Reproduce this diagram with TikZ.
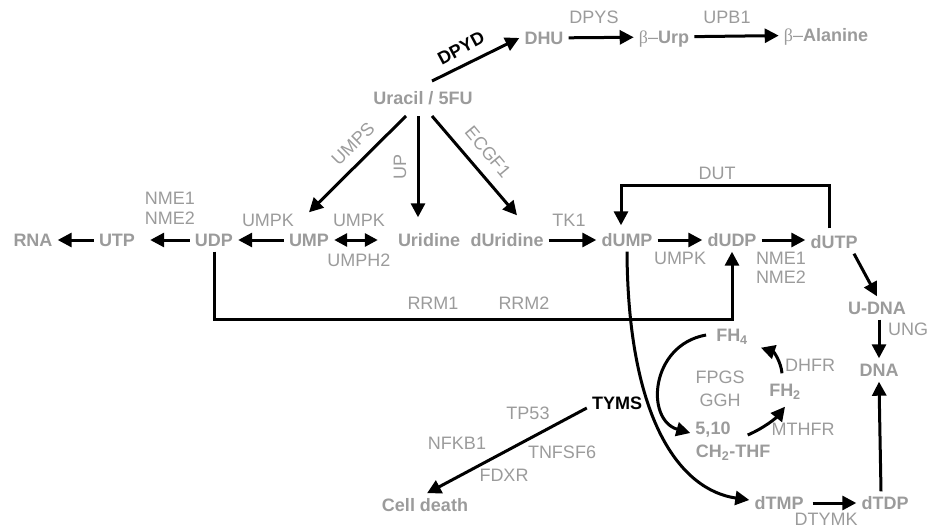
\documentclass[tikz,border=0pt]{standalone}
\usepackage{fontspec}
\setmainfont{Liberation Sans}
\newfontfamily\grkfont{Liberation Serif}
\usetikzlibrary{arrows.meta}
\definecolor{lbl}{RGB}{155,155,155}
\begin{document}
\begin{tikzpicture}[x=1pt,y=-1pt,
 met/.style={font=\fontsize{18}{18}\selectfont\bfseries, text=lbl, inner sep=5pt, text height=13pt, text depth=0pt},
 enz/.style={font=\fontsize{18}{18}\selectfont, text=lbl, inner sep=0pt},
 key/.style={font=\fontsize{18}{18}\selectfont\bfseries, text=black, inner sep=5pt, text height=13pt, text depth=0pt},
 arr/.style={line width=3pt, -{Triangle[length=14pt,width=14pt]}},
 dbl/.style={line width=3pt, {Triangle[length=13pt,width=13pt]}-{Triangle[length=13pt,width=13pt]}},
 ln/.style={line width=3pt}]
\useasboundingbox (0,0) rectangle (927,530);
% metabolites
\node[met] (U) at (423,98) {Uracil / 5FU};
\node[met] (DHU) at (544,38) {DHU};
\node[met] (BUrp) at (664,37) {{\mdseries\grkfont β}{\mdseries –}Urp};
\node[met] (BAla) at (826,35) {{\mdseries\grkfont β}{\mdseries –}Alanine};
\node[met] (RNA) at (33,240) {RNA};
\node[met] (UTP) at (117,240) {UTP};
\node[met] (UDP) at (214,240) {UDP};
\node[met] (UMP) at (309,240) {UMP};
\node[met] (Urid) at (429,240) {Uridine};
\node[met] (dUrid) at (507,240) {dUridine};
\node[met] (dUMP) at (627,240) {dUMP};
\node[met] (dUDP) at (732,240) {dUDP};
\node[met] (dUTP) at (834,242) {dUTP};
\node[met] (UDNA) at (877,308) {U-DNA};
\node[met] (DNA) at (879,370) {DNA};
\node[met] (dTDP) at (885,503) {dTDP};
\node[met] (dTMP) at (779,503) {dTMP};
\node[met] (FH4) at (732,335) {FH\textsubscript{4}};
\node[met] (FH2) at (785,390) {FH\textsubscript{2}};
\node[met] (THFa) at (713,428) {5,10};
\node[met] (THFb) at (733,451) {CH\textsubscript{2}-THF};
\node[key] (TYMS) at (617,403) {TYMS};
\node[met] (CD) at (425,505) {Cell death};
% enzyme labels
\node[enz] (DPYS) at (594,17) {DPYS};
\node[enz] (UPB1) at (727,17) {UPB1};
\node[enz] (NMEa) at (170,198) {NME1};
\node[enz] (NMEb) at (170,218) {NME2};
\node[enz] (UMPKa) at (268,220) {UMPK};
\node[enz] (UMPKb) at (359,220) {UMPK};
\node[enz] (UMPH) at (359,260) {UMPH2};
\node[enz] (TK) at (569,220) {TK1};
\node[enz] (UMPKc) at (680,258) {UMPK};
\node[enz] (NMEc) at (781,258) {NME1};
\node[enz] (NMEd) at (781,277) {NME2};
\node[enz] (DUT) at (717,173) {DUT};
\node[enz] (RRMa) at (433,303) {RRM1};
\node[enz] (RRMb) at (524,303) {RRM2};
\node[enz, anchor=west] (UNG) at (888,329) {UNG};
\node[enz] (FPGS) at (720,377) {FPGS};
\node[enz] (GGH) at (720,400) {GGH};
\node[enz] (DHFR) at (810,365) {DHFR};
\node[enz] (MTHFR) at (803,429) {MTHFR};
\node[enz] (DTYMK) at (826,519) {DTYMK};
\node[enz] (TP) at (528,413) {TP53};
\node[enz] (NFKB) at (457,443) {NFKB1};
\node[enz] (TNF) at (562,452) {TNFSF6};
\node[enz] (FDXR) at (504,475) {FDXR};
\node[enz, rotate=45] (UMPS) at (353,144) {UMPS};
\node[enz, rotate=90] (UP) at (400,167) {UP};
\node[enz, rotate=-50] (ECGF) at (488,152) {ECGF1};
\node[enz, text=black, font=\fontsize{18}{18}\selectfont\bfseries, rotate=28] (DPYD) at (461,48) {DPYD};
% connectors
\coordinate (dutR) at (829,185);
\coordinate (dutL) at (621,185);
\coordinate (rrmL) at (214,319);
\coordinate (rrmR) at (732,319);
\draw[arr] ([xshift=9pt,yshift=17pt]U.center) -- (DHU.west);
\draw[arr] (DHU) -- (BUrp);
\draw[arr] (BUrp) -- (BAla);
\draw[arr] ([xshift=-17pt,yshift=-18pt]U.center) -- ([yshift=16pt]UMP.north);
\draw[arr] ([xshift=-5pt,yshift=-18pt]U.center) -- ([xshift=-11pt,yshift=11pt]Urid.north);
\draw[arr] ([xshift=9pt,yshift=-18pt]U.center) -- ([xshift=10pt,yshift=13pt]dUrid.north);
\draw[arr] (UTP) -- (RNA);
\draw[arr, shorten >=10pt] (UDP) -- (UTP);
\draw[arr] (UMP) -- (UDP);
\draw[dbl, shorten >=15pt] (UMP) -- (Urid);
\draw[arr] (dUrid) -- (dUMP);
\draw[arr] (dUMP) -- (dUDP);
\draw[arr] (dUDP) -- (dUTP.west |- dUDP.east);
\draw[arr] ([xshift=-5pt,yshift=2pt]dUTP.north) -- (dutR) -- (dutL) -- ([xshift=-6pt,yshift=3pt]dUMP.north);
\draw[arr] (UDP.south) -- (rrmL) -- (rrmR) -- (dUDP.south);
\draw[arr] ([xshift=20pt]dUTP.south) -- (UDNA.north);
\draw[arr] ([xshift=2pt]UDNA.south) -- (DNA.north);
\draw[arr] ([xshift=-4pt]dTDP.north) -- (DNA.south);
\draw[arr, shorten <=4pt] (dTMP) -- (dTDP);
\draw[arr] (dUMP.south) .. controls (628,420) and (680,490) .. ([yshift=3pt]dTMP.west);
\draw[arr] ([xshift=-5pt]FH4.west) .. controls (650,345) and (645,420) .. ([yshift=-5pt]THFa.west);
\draw[arr] ([xshift=12pt,yshift=-7pt]THFa.east) .. controls (764,428) and (776,418) .. ([yshift=-5pt]FH2.south);
\draw[arr] ([xshift=-3pt,yshift=5pt]FH2.north) .. controls (781,362) and (774,352) .. ([xshift=8pt,yshift=-1pt]FH4.south east);
\draw[arr] ([yshift=-5pt]TYMS.west) -- ([xshift=2pt]CD.north);
\end{tikzpicture}
\end{document}
